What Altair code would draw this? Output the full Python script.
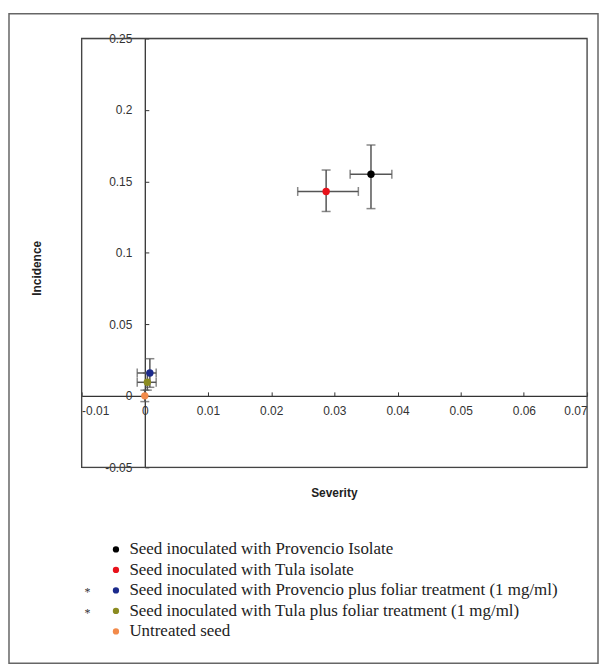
import altair as alt
import pandas as pd

names = [
    "Seed inoculated with Provencio Isolate",
    "Seed inoculated with Tula isolate",
    "Seed inoculated with Provencio plus foliar treatment (1 mg/ml)",
    "Seed inoculated with Tula plus foliar treatment (1 mg/ml)",
    "Untreated seed",
]
colors = ["#000000", "#e8121b", "#1b2a8c", "#8b8b20", "#f28a4a"]
severity = [0.0358, 0.0287, 0.0008, 0.0004, 0.0]
sev_lo = [0.0325, 0.0242, -0.0012, -0.0012, 0.0]
sev_hi = [0.0391, 0.0338, 0.0018, 0.0018, 0.0]
incidence = [0.155, 0.143, 0.016, 0.0095, 0.0]
inc_lo = [0.131, 0.129, 0.006, 0.004, -0.004]
inc_hi = [0.1755, 0.158, 0.026, 0.016, 0.004]

x_ticks = [-0.01, 0, 0.01, 0.02, 0.03, 0.04, 0.05, 0.06, 0.07]
y_ticks = [-0.05, 0, 0.05, 0.1, 0.15, 0.2, 0.25]

df = pd.DataFrame({
    "name": names, "sev": severity, "sev_lo": sev_lo, "sev_hi": sev_hi,
    "inc": incidence, "inc_lo": inc_lo, "inc_hi": inc_hi,
})

W, H = 508, 431
xs = alt.Scale(domain=[-0.01, 0.07], nice=False, zero=False)
ys = alt.Scale(domain=[-0.05, 0.25], nice=False, zero=False)
x0 = W * (0 - (-0.01)) / 0.08
y0 = H * (0.25 - 0) / 0.30

FONT = "Liberation Sans"
ERR = "#555555"
AX = "#333333"

lab_x = alt.Axis(orient="bottom", offset=-(H - y0), values=x_ticks, domain=False, ticks=False,
                 labelExpr="'' + datum.value", labelFont=FONT, labelFontSize=12, labelColor=AX,
                 labelPadding=10, grid=False, title=None)
lab_y = alt.Axis(orient="left", offset=-x0, values=y_ticks, domain=False, ticks=False,
                 labelExpr="'' + datum.value", labelFont=FONT, labelFontSize=12, labelColor=AX,
                 labelPadding=13, grid=False, title=None)
tick_x = alt.Axis(orient="top", offset=-y0, values=x_ticks, labels=False, domain=True, ticks=True,
                  tickSize=4, tickColor=AX, domainColor=AX, domainWidth=1.3,
                  grid=False, title=None)
tick_y = alt.Axis(orient="right", offset=-(W - x0), values=y_ticks, labels=False, domain=True, ticks=True,
                  tickSize=4, tickColor=AX, domainColor=AX, domainWidth=1.3,
                  grid=False, title=None)

base = alt.Chart(df)

xrule = base.mark_rule(color=ERR, strokeWidth=1.5).encode(
    x=alt.X("sev_lo:Q", scale=xs, axis=lab_x), x2="sev_hi:Q",
    y=alt.Y("inc:Q", scale=ys, axis=lab_y))
yrule = base.mark_rule(color=ERR, strokeWidth=1.5).encode(
    x=alt.X("sev:Q", scale=xs, axis=None),
    y=alt.Y("inc_lo:Q", scale=ys, axis=None), y2="inc_hi:Q")
cap1 = base.mark_tick(color=ERR, orient="vertical", size=9, thickness=1.5).encode(
    x=alt.X("sev_lo:Q", scale=xs, axis=None), y=alt.Y("inc:Q", scale=ys, axis=None))
cap2 = base.mark_tick(color=ERR, orient="vertical", size=9, thickness=1.5).encode(
    x=alt.X("sev_hi:Q", scale=xs, axis=None), y=alt.Y("inc:Q", scale=ys, axis=None))
cap3 = base.mark_tick(color=ERR, orient="horizontal", size=9, thickness=1.5).encode(
    x=alt.X("sev:Q", scale=xs, axis=None), y=alt.Y("inc_lo:Q", scale=ys, axis=None))
cap4 = base.mark_tick(color=ERR, orient="horizontal", size=9, thickness=1.5).encode(
    x=alt.X("sev:Q", scale=xs, axis=None), y=alt.Y("inc_hi:Q", scale=ys, axis=None))

points = base.mark_point(filled=True, size=55, opacity=1, shape="circle").encode(
    x=alt.X("sev:Q", scale=xs, axis=tick_x),
    y=alt.Y("inc:Q", scale=ys, axis=tick_y),
    color=alt.Color("name:N", scale=alt.Scale(domain=names, range=colors),
                    legend=alt.Legend(orient="none", legendX=26, legendY=505, title=None,
                                      labelFont="Liberation Serif", labelFontSize=17,
                                      labelColor="#222222", symbolType="circle", symbolSize=40,
                                      symbolStrokeWidth=0, rowPadding=2.6, labelOffset=5,
                                      padding=0, labelLimit=600)),
)

ytitle = alt.Chart(pd.DataFrame({"t": ["Incidence"]})).mark_text(
    font=FONT, fontSize=12, fontWeight="bold", angle=270, color="#222222").encode(
    text="t:N", x=alt.value(-45), y=alt.value(231))
xtitle = alt.Chart(pd.DataFrame({"t": ["Severity"]})).mark_text(
    font=FONT, fontSize=12, fontWeight="bold", color="#222222").encode(
    text="t:N", x=alt.value(W / 2), y=alt.value(457))
stars = alt.Chart(pd.DataFrame({"t": ["*"]})).mark_text(
    font="Liberation Serif", fontSize=12, color="#333333").encode(text="t:N", x=alt.value(6), y=alt.value(556))
stars2 = alt.Chart(pd.DataFrame({"t": ["*"]})).mark_text(
    font="Liberation Serif", fontSize=12, color="#333333").encode(text="t:N", x=alt.value(6), y=alt.value(577))
border = alt.Chart(pd.DataFrame({"t": [1]})).mark_rect(
    fill=None, stroke="#666666", strokeWidth=1.5).encode(
    x=alt.value(-73), x2=alt.value(519), y=alt.value(-25), y2=alt.value(628))
plotbox = alt.Chart(pd.DataFrame({"t": [1]})).mark_rect(
    fill=None, stroke="#444444", strokeWidth=1.3).encode(
    x=alt.value(0), x2=alt.value(W), y=alt.value(0), y2=alt.value(H))

chart = alt.layer(border, plotbox, xrule, yrule, cap1, cap2, cap3, cap4, points, ytitle, xtitle, stars, stars2).resolve_axis(
    x="independent", y="independent"
).properties(
    width=W, height=H,
    autosize=alt.AutoSizeParams(type="none"),
    padding={"left": 74, "top": 29, "right": 12, "bottom": 198},
).configure_view(stroke=None).configure(background="white")

chart.save("out.html", embed_options={"renderer": "svg", "actions": False})
